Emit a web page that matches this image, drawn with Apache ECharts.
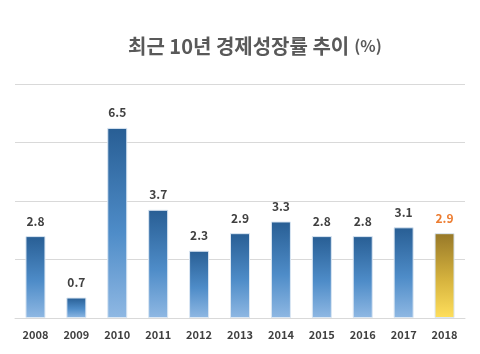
<!DOCTYPE html>
<html><head><meta charset="utf-8">
<script src="https://cdn.jsdelivr.net/npm/echarts@6/dist/echarts.min.js"></script>
<style>html,body{margin:0;padding:0;background:#fff}#c{width:480px;height:354px}</style>
</head><body><div id="c"></div>
<script>
const years = ['2008','2009','2010','2011','2012','2013','2014','2015','2016','2017','2018'];
const growth = [2.8, 0.7, 6.5, 3.7, 2.3, 2.9, 3.3, 2.8, 2.8, 3.1, 2.9];
const titleMain = '최근 10년 경제성장률 추이';
const titleUnit = '(%)';

const blue = new echarts.graphic.LinearGradient(0,0,0,1,[{offset:0,color:'#285e94'},{offset:0.55,color:'#4e8cc8'},{offset:1,color:'#8fb8e3'}]);
const gold = new echarts.graphic.LinearGradient(0,0,0,1,[{offset:0,color:'#977828'},{offset:0.55,color:'#d6b33e'},{offset:1,color:'#ffdf5c'}]);
const last = growth.length - 1;
const chart = echarts.init(document.getElementById('c'));
chart.setOption({
  animation:false,
  title:{text:'{m|'+titleMain+'} {u|'+titleUnit+'}', left:123, top:31,
    textStyle:{rich:{m:{fontFamily:'Noto Sans CJK KR',fontSize:20,fontWeight:'bold',color:'#595959'},
                     u:{fontFamily:'Noto Sans CJK KR',fontSize:16,color:'#595959'}}}},
  grid:{left:15,right:15,top:84,bottom:36,containLabel:false},
  xAxis:{type:'category',data:years,axisTick:{show:false},
    axisLine:{lineStyle:{color:'#d9d9d9'}},
    axisLabel:{fontFamily:'Noto Sans CJK KR',fontSize:11,fontWeight:'bold',color:'#404040',margin:11}},
  yAxis:{type:'value',min:0,max:8,interval:2,axisLabel:{show:false},
    splitLine:{lineStyle:{color:'#d9d9d9'}},axisLine:{show:false},axisTick:{show:false}},
  series:[{type:'bar',barWidth:20,
    data:growth.map((v,i)=>({value:v,itemStyle:{color:i===last?gold:blue},
      label:{color:i===last?'#ed7d31':'#404040'}})),
    itemStyle:{borderColor:'#dbe7f3',borderWidth:1},
    label:{show:true,position:'top',distance:9,fontFamily:'Noto Sans CJK KR',fontSize:12,fontWeight:'bold'}}]
});
</script></body></html>
